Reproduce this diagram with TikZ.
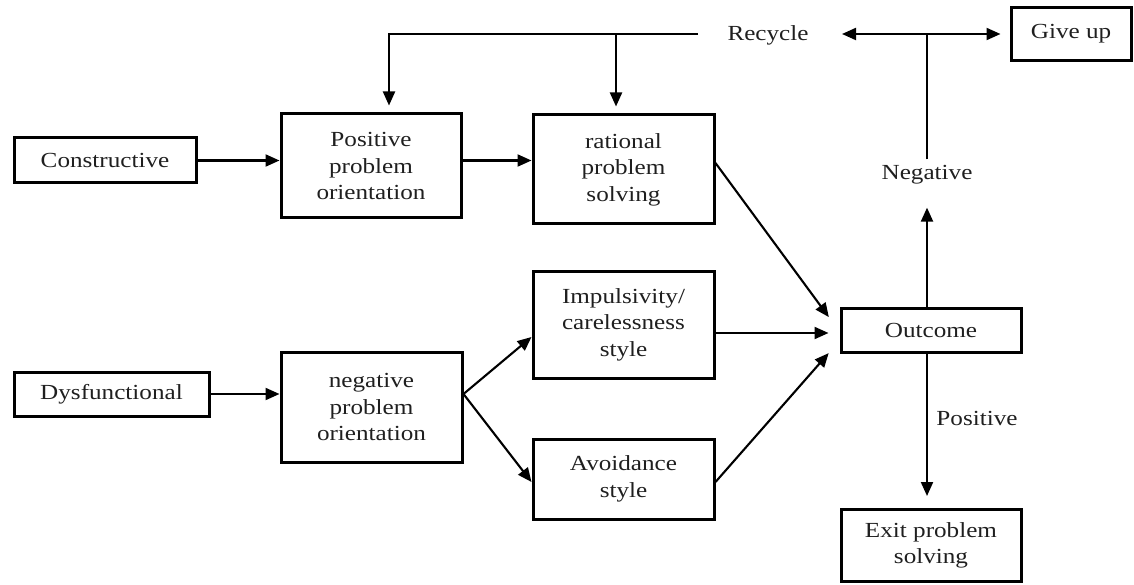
\documentclass[tikz,border=0pt]{standalone}
\usepackage{fontspec}
\setmainfont{Liberation Serif}[FakeStretch=1.17]
\usetikzlibrary{arrows.meta,calc}
\newcommand{\dfont}{\fontsize{21.5}{26.5}\selectfont}
\definecolor{txt}{gray}{0.12}
\begin{document}
\begin{tikzpicture}[x=1pt,y=-1pt,
  box/.style={draw=black, line width=3pt, align=center, inner sep=0pt, font=\dfont, text=txt},
  lbl/.style={inner sep=0pt, font=\dfont, text=txt},
  arr/.style={line width=2.1pt, -{Triangle[length=14pt,width=12pt]}},
  thinl/.style={line width=1.5pt},
  recl/.style={line width=1.8pt}
]
\useasboundingbox (0,0) rectangle (1134,585);
% boxes
\node[box, minimum width=182pt, minimum height=45pt] (constructive) at (105,160.5) {Constructive};
\node[box, minimum width=180pt, minimum height=104pt] (positive) at (371,166) {Positive\\problem\\orientation};
\node[box, minimum width=181pt, minimum height=109pt] (rational) at (623.5,169.5) {rational\\problem\\solving};
\node[box, minimum width=120pt, minimum height=53pt] (giveup) at (1071,34) {Give up};
\node[box, minimum width=181pt, minimum height=107pt] (impulsivity) at (623.5,324.5) {Impulsivity/\\carelessness\\style};
\node[box, minimum width=180pt, minimum height=44pt] (outcome) at (931,330) {Outcome};
\node[box, minimum width=195pt, minimum height=44pt] (dysfunctional) at (111.5,394) {Dysfunctional};
\node[box, minimum width=181pt, minimum height=110pt] (negative) at (371.5,407) {negative\\problem\\orientation};
\node[box, minimum width=181pt, minimum height=80pt] (avoidance) at (623.5,479) {Avoidance\\style};
\node[box, minimum width=180pt, minimum height=72pt] (exit) at (931,545.5) {Exit problem\\solving};
% labels
\node[lbl] (recycle) at (768,35) {Recycle};
\node[lbl] (neglabel) at (927,175) {Negative};
\node[lbl] (poslabel) at (977,418) {Positive};
% coordinates
\coordinate (recend) at (698,34);
\coordinate (jr) at (616,34);
\coordinate (tee) at (927,34);
\coordinate (recleft) at (842,34);
% recycle loop
\draw[recl] (recend) -- (jr);
\draw[arr, shorten >=7pt] (jr) -| ([xshift=18pt]positive.north);
\draw[arr, shorten >=7pt] (jr) -- (jr |- rational.north);
% give up / recycle
\draw[arr] (tee) -- (recleft);
\draw[arr, shorten >=9pt] (tee) -- (giveup.west);
\draw[thinl] (neglabel.north) ++(0,-6) -- (tee);
\draw[arr, shorten >=23pt] (outcome.north -| tee) -- (neglabel.south);
\draw[arr, shorten >=12pt] (outcome.south -| tee) -- (exit.north -| tee);
% main flow
\draw[arr] (constructive.east) -- (constructive.east -| positive.west);
\draw[arr] (positive.east |- constructive.east) -- (rational.west |- constructive.east);
\draw[arr] (dysfunctional.east) -- (dysfunctional.east -| negative.west);
\draw[arr] ([yshift=13pt]negative.east) -- ([yshift=-12.5pt]impulsivity.west);
\draw[arr] ([yshift=13pt]negative.east) -- ([yshift=-3pt]avoidance.west);
\draw[arr, shorten >=18pt] ([yshift=6.5pt]rational.east) -- ([yshift=-1.6pt]outcome.west);
\draw[arr, shorten >=11pt] ([yshift=-8.5pt]impulsivity.east) -- ([yshift=-3pt]outcome.west);
\draw[arr, shorten >=16.4pt] ([yshift=-3pt]avoidance.east) -- ([yshift=-10.8pt]outcome.west);
\end{tikzpicture}
\end{document}
